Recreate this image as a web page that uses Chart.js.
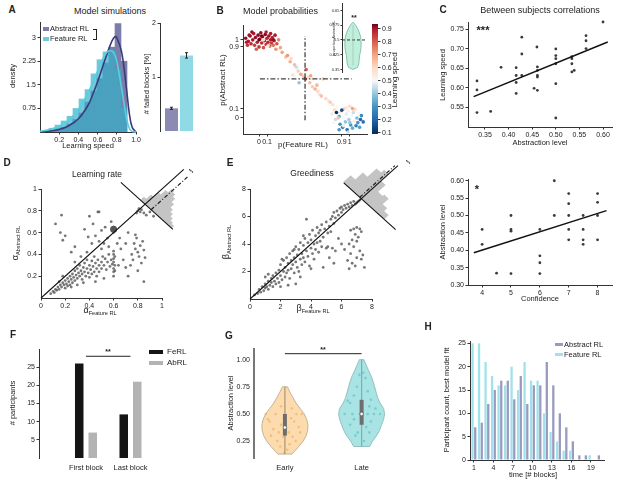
<!DOCTYPE html>
<html><head><meta charset="utf-8">
<script src="https://cdn.jsdelivr.net/npm/chart.js@4.4.1/dist/chart.umd.min.js"></script>
<style>
html,body{margin:0;padding:0;background:#fff;}
body{width:617px;height:481px;position:relative;overflow:hidden;font-family:'Liberation Sans',Arial,Helvetica,sans-serif;color:#222;}
canvas{position:absolute;}
.t{position:absolute;white-space:nowrap;line-height:1;}
.t sub{font-size:62%;vertical-align:-0.35em;}
</style></head><body>
<script>
// ================= DATA =================
// Panel A : histogram of learning speed (density)
const A_BIN_CENTERS=[0.0625,0.125,0.1875,0.25,0.3125,0.375,0.4375,0.5,0.5625,0.625,0.6875,0.75,0.8125,0.875];
const A_HIST_ABSTRACT=[0.02,0.05,0.1,0.15,0.25,0.4,0.6,0.95,1.3,1.7,2.2,2.7,3.45,2.25];
const A_HIST_FEATURE=[0.05,0.12,0.22,0.35,0.5,0.75,1.05,1.35,1.85,2.3,2.55,2.6,2.0,0.75];
const A_CURVE_X=[0,0.1,0.2,0.3,0.4,0.5,0.55,0.6,0.65,0.7,0.75,0.78,0.8,0.85,0.9,0.93,0.96,1.0];
const A_CURVE_ABSTRACT=[0,0.03,0.08,0.2,0.42,0.85,1.2,1.6,2.05,2.5,2.9,3.03,3.0,2.55,1.4,0.6,0.15,0.0];
const A_CURVE_FEATURE=[0.02,0.08,0.18,0.38,0.72,1.25,1.58,1.95,2.3,2.55,2.58,2.45,2.25,1.4,0.45,0.12,0.02,0];
const A_X_TICKS=[0.2,0.4,0.6,0.8,1.0];
const A_Y_TICKS=[0.75,1.5,2.25,3];
const A_Y_LABELS=['0.75','1.5','2.25','3'];
const A_FAIL_VALUES=[0.42,1.4];
const A_FAIL_ERR=[0.02,0.05];
// Panel B : model probabilities (display coords), learning speed
const B_POINTS=[
[-0.15,1.02,0.92],[-0.12,0.98,0.9],[-0.1,1.05,0.93],[-0.09,0.95,0.88],[-0.07,1.0,0.91],[-0.06,1.08,0.9],[-0.05,0.93,0.85],[-0.04,1.03,0.92],[-0.02,0.97,0.89],[-0.01,1.06,0.93],
[0.0,0.91,0.86],[0.01,1.01,0.9],[0.02,1.09,0.92],[0.03,0.96,0.87],[0.04,1.04,0.91],[0.05,0.9,0.82],[0.06,0.99,0.9],[0.07,1.07,0.93],[0.08,0.94,0.86],[0.09,1.02,0.89],
[0.1,0.97,0.88],[0.11,1.05,0.91],[0.12,0.92,0.8],[0.13,1.0,0.9],[0.14,0.96,0.85],[0.15,1.03,0.88],[0.16,0.93,0.78],[0.17,0.99,0.87],[0.18,1.06,0.9],[0.2,0.95,0.82],
[0.22,1.0,0.75],[0.24,0.9,0.7],[-0.13,0.93,0.86],[-0.08,1.1,0.92],[0.0,1.0,0.95],[0.05,1.0,0.6],[0.1,0.92,0.55],[-0.03,0.88,0.8],[0.13,1.08,0.9],[0.19,0.88,0.72],
[0.08,1.1,0.88],[-0.11,1.06,0.91],[-0.14,0.97,0.9],[0.03,1.05,0.94],[0.16,1.0,0.92],
[0.26,0.84,0.7],[0.3,0.78,0.65],[0.32,0.8,0.72],[0.35,0.72,0.68],[0.36,0.76,0.6],[0.4,0.68,0.66],[0.42,0.65,0.45],[0.44,0.6,0.62],[0.47,0.56,0.7],[0.5,0.53,0.64],
[0.52,0.5,0.88],[0.53,0.62,0.8],[0.55,0.52,0.6],[0.57,0.45,0.65],[0.6,0.4,0.63],[0.6,0.5,0.55],[0.63,0.37,0.68],[0.66,0.34,0.6],[0.68,0.3,0.58],[0.7,0.28,0.65],
[0.72,0.5,0.62],[0.75,0.25,0.6],[0.78,0.22,0.55],[0.8,0.2,0.62],[0.83,0.17,0.58],[0.58,0.54,0.7],[0.45,0.45,0.4],[0.38,0.55,0.58],[0.65,0.42,0.67],
[0.82,0.05,0.55],[0.85,0.1,0.6],[0.86,-0.02,0.45],[0.88,0.14,0.5],[0.9,0.02,0.35],[0.91,-0.08,0.3],[0.92,0.08,0.55],[0.94,-0.12,0.25],[0.95,0.0,0.5],[0.96,0.12,0.62],
[0.97,-0.05,0.4],[0.98,0.05,0.48],[0.99,-0.15,0.2],[1.0,0.09,0.52],[1.01,-0.02,0.42],[1.02,0.15,0.6],[1.03,-0.09,0.3],[1.04,0.03,0.5],[1.05,-0.13,0.35],[1.06,0.07,0.45],
[1.07,-0.04,0.52],[1.08,0.11,0.58],[1.09,-0.1,0.25],[1.1,0.0,0.38],[1.11,-0.06,0.3],[1.12,0.06,0.5],[1.14,-0.02,0.2],[1.15,0.03,0.28],[1.17,-0.05,0.22],[0.87,0.07,0.1],
[0.93,0.1,0.15],[0.84,-0.06,0.5],[0.98,0.13,0.55],[1.0,-0.18,0.45],[0.9,-0.15,0.3],[1.05,0.12,0.7],[0.95,-0.1,0.48],[1.13,-0.12,0.32],[0.89,0.0,0.65],[1.02,-0.06,0.4]];
const B_X_TICK_POS=[0,0.09,0.93,1.02];
const B_X_TICK_LABELS=['0','0.1','0.9','1'];
const B_Y_TICK_POS=[0,0.115,0.91,1];
const B_Y_TICK_LABELS=['0','0.1','0.9','1'];
const B_THRESH_X=0.517, B_THRESH_Y=0.5;
const B_CB_TICKS=[0.1,0.2,0.3,0.4,0.5,0.6,0.7,0.8,0.9];
const B_INSET_LEVELS=[0.35,0.36,0.38,0.4,0.42,0.44,0.46,0.48,0.5,0.52,0.54,0.56,0.58,0.59];
const B_INSET_DENS=[0,0.45,0.58,0.62,0.66,0.74,0.8,0.82,0.8,0.74,0.62,0.44,0.2,0];
const B_INSET_TICKS=[0.35,0.425,0.5,0.575,0.65];
const B_INSET_LABELS=['0.35','0.425','0.5','0.575','0.65'];
// Panel C
const C1_ABSTRACTION=[0.333,0.333,0.333,0.362,0.384,0.416,0.416,0.416,0.416,0.428,0.428,0.428,0.454,0.46,0.461,0.461,0.461,0.461,0.461,0.5,0.5,0.5,0.5,0.5,0.5,0.534,0.534,0.534,0.539,0.534,0.564,0.564,0.564,0.6];
const C1_SPEED=[0.618,0.595,0.537,0.54,0.653,0.652,0.632,0.614,0.586,0.73,0.687,0.632,0.599,0.705,0.654,0.645,0.632,0.628,0.594,0.70,0.683,0.675,0.662,0.611,0.523,0.675,0.662,0.641,0.645,0.68,0.734,0.721,0.701,0.769];
const C1_FIT=[0.493,0.417]; const C1_FIT_RANGE=[0.326,0.61];
const C1_X_TICKS=[0.35,0.40,0.45,0.50,0.55,0.60];
const C1_Y_TICKS=[0.55,0.60,0.65,0.70,0.75];
const C2_CONFIDENCE=[4,4,4.5,5,5,5,5,6,6,6,6,6.5,6.5,7,7,7,7,7,7.5,7.5,7.5,7.5,8,8,8,8];
const C2_ABSTRACTION=[0.46,0.417,0.334,0.5,0.46,0.455,0.333,0.46,0.384,0.364,0.333,0.6,0.5,0.563,0.534,0.5,0.46,0.43,0.5,0.46,0.43,0.417,0.563,0.538,0.5,0.43];
const C2_FIT=[0.0263,0.2954]; const C2_FIT_RANGE=[3.71,8.31];
const C2_X_TICKS=[4,5,6,7,8];
const C2_Y_TICKS=[0.30,0.35,0.40,0.45,0.50,0.55,0.60];
// Panel D : learning rate (Feature RL, Abstract RL)
const D_POINTS=[[0.08,0.04],[0.1,0.06],[0.11,0.05],[0.12,0.08],[0.13,0.07],[0.14,0.1],[0.15,0.08],[0.16,0.12],[0.17,0.1],[0.18,0.14],[0.19,0.12],[0.2,0.09],[0.2,0.16],[0.21,0.13],[0.22,0.18],[0.22,0.11],[0.23,0.15],[0.24,0.2],[0.24,0.12],[0.25,0.17],[0.26,0.14],[0.26,0.22],[0.27,0.19],[0.28,0.16],[0.28,0.25],[0.29,0.21],[0.3,0.18],[0.3,0.27],[0.31,0.23],[0.32,0.2],[0.32,0.3],[0.33,0.25],[0.34,0.22],[0.34,0.17],[0.35,0.28],[0.36,0.24],[0.36,0.32],[0.37,0.2],[0.38,0.27],[0.38,0.35],[0.39,0.23],[0.4,0.3],[0.4,0.19],[0.41,0.26],[0.42,0.34],[0.42,0.22],[0.43,0.29],[0.44,0.38],[0.44,0.24],[0.45,0.32],[0.46,0.27],[0.46,0.2],[0.47,0.35],[0.48,0.3],[0.48,0.24],[0.5,0.33],[0.5,0.27],[0.51,0.38],[0.52,0.3],[0.53,0.36],[0.54,0.26],[0.55,0.33],[0.56,0.4],[0.57,0.29],[0.58,0.35],
[0.15,0.15],[0.18,0.2],[0.25,0.1],[0.3,0.12],[0.35,0.14],[0.45,0.15],[0.52,0.18],[0.38,0.42],[0.33,0.38],[0.28,0.33],
[0.6,0.2],[0.6,0.24],[0.6,0.27],[0.61,0.3],[0.6,0.33],[0.6,0.36],[0.61,0.38],[0.6,0.4],[0.6,0.43],[0.59,0.31],[0.61,0.25],[0.6,0.6],[0.61,0.62],[0.6,0.65],
[0.4,0.75],[0.47,0.79],[0.48,0.79],[0.43,0.68],[0.5,0.62],[0.36,0.63],[0.45,0.57],[0.52,0.5],[0.55,0.55],[0.56,0.47],[0.53,0.65],[0.58,0.7],[0.5,0.45],[0.48,0.52],[0.42,0.5],[0.39,0.56],[0.63,0.5],[0.65,0.55],[0.66,0.45],[0.64,0.3],
[0.12,0.68],[0.17,0.76],[0.16,0.6],[0.18,0.53],[0.2,0.57],[0.25,0.42],[0.28,0.47],
[0.72,0.2],[0.74,0.3],[0.75,0.4],[0.76,0.35],[0.77,0.5],[0.78,0.45],[0.78,0.58],[0.79,0.55],[0.8,0.42],[0.81,0.38],[0.82,0.48],[0.83,0.32],[0.84,0.52],[0.85,0.44],[0.86,0.37],[0.8,0.25],[0.85,0.15],[0.7,0.5],[0.72,0.6],[0.68,0.35],[0.7,0.28],
[0.8,0.8],[0.81,0.82],[0.82,0.79],[0.83,0.81],[0.79,0.78],[0.85,0.78],[0.87,0.76],[0.9,0.79],[0.93,0.75]];
const D_MEAN_POINT=[[0.6,0.63]];
const D_X_TICKS=[0,0.2,0.4,0.6,0.8,1]; const D_Y_TICKS=[0.2,0.4,0.6,0.8,1];
const D_HIST_CENTER=[0.86,0.86];
const D_HIST_OFFSET=[-0.03,-0.01,0.01,0.03,0.05,0.07,0.09,0.11,0.13,0.15,0.17,0.19,0.21];
const D_HIST_LENGTH=[0.03,0.07,0.11,0.15,0.18,0.17,0.15,0.12,0.09,0.07,0.05,0.03,0.02];
const D_HIST_BIN=0.02; const D_CROSS=[-0.2,0.23]; const D_MEAN_OFFSET=0.05; const D_DIAG_END=1.18;
// Panel E : greediness
const E_POINTS=[[0.3,0.3],[0.5,0.4],[0.6,0.7],[0.7,0.5],[0.8,0.9],[0.9,0.6],[1.0,1.1],[1.0,0.8],[1.1,0.9],[1.2,1.3],[1.2,0.7],[1.3,1.0],[1.4,1.5],[1.4,1.2],[1.5,0.9],[1.5,1.7],[1.6,1.3],[1.7,1.9],[1.7,1.1],[1.8,1.5],[1.9,2.1],[1.9,1.2],[2.0,1.7],[2.0,2.5],[2.1,1.4],[2.2,2.0],[2.2,2.8],[2.3,1.6],[2.3,2.3],[2.4,3.0],[2.4,1.9],[2.5,2.6],[2.5,2.1],[2.6,3.3],[2.6,1.5],[2.7,2.8],[2.7,2.2],[2.8,3.5],[2.8,2.5],[2.9,3.0],[2.9,1.9],[3.0,2.7],[3.0,3.8],[3.1,2.3],[3.1,3.2],[3.2,3.6],[3.2,2.0],[3.3,2.9],[3.3,4.1],[3.4,3.3],[3.4,2.5],[3.5,3.9],[3.5,3.0],[3.6,4.4],[3.6,2.7],[3.7,3.5],[3.7,5.8],[3.8,4.1],[3.8,3.1],[3.9,4.7],[3.9,2.4],[4.0,3.7],[4.0,4.3],[4.1,3.3],[4.1,5.0],[4.2,4.0],[4.2,2.9],[4.3,4.6],[4.3,3.6],[4.4,5.2],[4.4,4.1],[4.5,3.4],[4.5,4.8],[4.6,5.0],[4.6,4.2],[4.7,3.8],[4.7,5.4],[4.8,4.5],[4.8,2.3],[4.9,5.1],[5.0,3.7],[5.0,5.6],[5.1,4.8],[5.1,3.8],[5.2,5.3],[5.3,5.8],[5.3,4.9],[5.4,6.0],[5.5,5.5],[5.5,6.3],[5.6,5.9],[5.7,6.4],[5.8,6.1],[5.9,6.6],[6.0,6.3],[6.0,6.7],[6.1,6.5],[6.2,6.8],[6.3,6.6],[6.4,6.9],[6.5,6.7],[6.6,7.0],[6.7,6.8],[6.8,7.1],[6.9,6.9],[7.0,7.0],[7.1,7.1],[7.2,7.2],
[6.6,5.0],[6.8,5.1],[7.0,5.2],[7.2,5.1],[7.3,4.9],[6.9,4.7],[7.1,4.5],[6.7,4.3],[7.0,4.2],[6.5,4.0],[6.8,3.8],[7.2,3.5],[6.6,3.3],[7.0,3.0],[7.3,2.9],[6.7,2.6],[6.9,2.4],[7.5,2.3],[7.4,3.2],[6.4,2.8],[6.5,2.2],[5.4,3.7],[5.6,3.5],[5.2,3.0],[5.8,4.4],[6.0,4.0],[6.2,3.6],[5.5,2.6],[1.2,1.8],[1.0,1.6],[2.0,0.9],[3.0,1.1],[2.5,1.0],[2.1,2.9],[2.9,3.6],[3.5,4.6],[4.0,2.2],[3.3,1.6]];
const E_X_TICKS=[0,2,4,6,8]; const E_Y_TICKS=[2,4,6,8];
const E_HIST_CENTER=[7.3,7.3];
const E_HIST_OFFSET=[-1.05,-0.75,-0.45,-0.15,0.15,0.45,0.75,1.05,1.35];
const E_HIST_LENGTH=[0.5,1.0,1.6,1.8,1.3,0.8,0.9,0.5,0.3];
const E_HIST_BIN=0.3; const E_CROSS=[-1.15,2.25]; const E_MEAN_OFFSET=-0.1; const E_DIAG_END=9.7;
// Panel F
const F_GROUPS=['First block','Last block'];
const F_FERL=[26,12];
const F_ABRL=[7,21];
const F_Y_TICKS=[5,10,15,20,25];
const F_SIG_Y=28;
// Panel G
const G_GROUPS=['Early','Late'];
const G_EARLY_LEVELS=[0.13,0.16,0.2,0.25,0.3,0.35,0.4,0.45,0.5,0.55,0.6,0.65,0.7,0.75];
const G_EARLY_DENS=[7,10,13.7,18,21,22.5,22.7,21.5,19,15,11,8,5,2.5];
const G_LATE_LEVELS=[0.2,0.25,0.3,0.35,0.4,0.45,0.5,0.55,0.6,0.65,0.7,0.75,0.8,0.85,0.9,0.95,1.0];
const G_LATE_DENS=[8,11,15,18,20,22,23,22,18.5,16,14.5,13,11.5,9.5,7,4.5,2.3];
const G_MIN=[0.13,0.2], G_Q1=[0.3,0.4], G_MED=[0.375,0.5], G_Q3=[0.5,0.63], G_MAX=[0.75,1.0];
const G_EARLY_VALUES=[0.57,0.5,0.5,0.5,0.46,0.43,0.43,0.4,0.38,0.36,0.33,0.33,0.33,0.3,0.29,0.29,0.25,0.25,0.22,0.2,0.17,0.14,0.55,0.45,0.5];
const G_EARLY_JITTER=[-0.05,0.15,-0.12,0.22,0.08,-0.2,0.12,-0.05,0.18,-0.15,0.05,-0.08,0.2,-0.18,0.1,-0.02,0.14,-0.1,0.06,-0.06,0.03,-0.01,0.09,-0.22,-0.25];
const G_LATE_VALUES=[0.88,0.86,0.83,0.75,0.71,0.67,0.63,0.6,0.57,0.55,0.5,0.5,0.5,0.5,0.5,0.5,0.45,0.43,0.4,0.38,0.33,0.33,0.3,0.25,0.62];
const G_LATE_JITTER=[0.02,-0.03,0.05,-0.06,0.08,-0.1,0.12,-0.15,0.1,0.18,-0.22,-0.12,-0.02,0.08,0.16,0.24,-0.1,0.12,-0.15,0.06,-0.05,0.1,-0.08,0.03,-0.18];
const G_Y_TICKS=[0.25,0.5,0.75,1.0];
const G_SIG_Y=1.055;
// Panel H
const H_BLOCKS=[1,2,3,4,5,6,7,8,9,10,11,12,13,14,15,16,17,18,19,20];
const H_FEATURE=[25,25,21,18,16,16,20,15,21,17,17,10,6,4,2,2,0,0,1,0];
const H_ABSTRACT=[7,8,12,15,17,17,13,18,12,16,16,21,16,10,7,4,1,1,0,1];
const H_X_TICKS=[1,4,7,10,13,16,19];
const H_Y_TICKS=[0,5,10,15,20,25];

// ================= HELPERS =================
const FONT="'Liberation Sans', Arial, Helvetica, sans-serif";
Chart.defaults.font.family=FONT;
Chart.defaults.font.size=7;
Chart.defaults.color='#222';
Chart.defaults.animation=false;

function T(x,y,s,fs,o={}){
  const d=document.createElement('div'); d.className='t'; d.innerHTML=s;
  d.style.left=x+'px'; d.style.top=y+'px'; d.style.fontSize=fs+'px';
  if(o.b) d.style.fontWeight='bold';
  if(o.c) d.style.color=o.c;
  d.style.transform='translate('+(o.left?'0':'-50%')+',-50%)'+(o.rot?' rotate('+o.rot+'deg)':'');
  document.body.appendChild(d);
}
function R(x,y,w,h,c,extra){const d=document.createElement('div');d.style.cssText='position:absolute;left:'+x+'px;top:'+y+'px;width:'+w+'px;height:'+h+'px;background:'+c+';'+(extra||'');document.body.appendChild(d);}

function lin(min,max,vals,o={}){
  const tl=o.tl??2.5;
  return {type:'linear',min,max,offset:false,position:o.pos,display:o.display??true,
    afterBuildTicks:(s)=>{s.ticks=vals.map(v=>({value:v}));},
    ticks:{autoSkip:false,maxRotation:0,minRotation:0,padding:o.pad??1.5,color:'#222',font:{size:o.fs||7,family:FONT},
      callback:(v,i)=>o.labels?o.labels[i]:(o.dec!=null?Number(v).toFixed(o.dec):String(v))},
    grid:{display:o.tick!==false,drawOnChartArea:false,drawTicks:true,tickLength:tl,color:'#333',tickColor:'#333',offset:false,lineWidth:1},
    border:{display:o.border!==false,color:o.bc||'#333',width:o.bw||1}};
}
function mk(rect,m,cfg){
  const [l,t,r,b]=rect,[ml,mt,mr,mb]=m;
  const c=document.createElement('canvas');
  const W=r-l+ml+mr,H=b-t+mt+mb;
  c.width=W;c.height=H;c.style.left=(l-ml)+'px';c.style.top=(t-mt)+'px';c.style.width=W+'px';c.style.height=H+'px';
  document.body.appendChild(c);
  const o=cfg.options=cfg.options||{};
  o.responsive=false;o.animation=false;o.devicePixelRatio=1;o.events=[];
  const pad={left:ml,top:mt,right:mr,bottom:mb};
  for(const k in o.scales){
    const s=o.scales[k]; if(s.display===false) continue;
    const pos=s.position||(k[0]==='x'?'bottom':'left');
    const size=pos==='left'?ml:pos==='right'?mr:pos==='top'?mt:mb;
    pad[pos]=0;
    s.afterFit=(sc)=>{if(pos==='left'||pos==='right')sc.width=size;else sc.height=size;sc.paddingLeft=sc.paddingRight=sc.paddingTop=sc.paddingBottom=0;};
  }
  o.layout={padding:pad};
  o.plugins=Object.assign({legend:{display:false},tooltip:{enabled:false}},o.plugins||{});
  return new Chart(c,cfg);
}
let PID=0;
function polyPlugin(items){return {id:'poly'+(PID++),beforeDatasetsDraw(ch){
  const ctx=ch.ctx,xs=ch.scales.x,ys=ch.scales.y; ctx.save();
  for(const it of items){ctx.beginPath();
    it.pts.forEach((p,i)=>{const X=xs.getPixelForValue(p[0]),Y=ys.getPixelForValue(p[1]);i?ctx.lineTo(X,Y):ctx.moveTo(X,Y);});
    ctx.closePath(); if(it.fill){ctx.fillStyle=it.fill;ctx.fill();} if(it.stroke){ctx.strokeStyle=it.stroke;ctx.lineWidth=it.lw||1;ctx.stroke();}}
  ctx.restore();}};}
function errPlugin(errs){return {id:'err'+(PID++),afterDatasetsDraw(ch){
  const ctx=ch.ctx,ys=ch.scales.y,meta=ch.getDatasetMeta(0); ctx.save(); ctx.strokeStyle='#222'; ctx.lineWidth=1;
  meta.data.forEach((el,i)=>{const v=ch.data.datasets[0].data[i].y;const y1=ys.getPixelForValue(v-errs[i]),y2=ys.getPixelForValue(v+errs[i]);
    ctx.beginPath();ctx.moveTo(el.x,y1);ctx.lineTo(el.x,y2);ctx.moveTo(el.x-1.5,y1);ctx.lineTo(el.x+1.5,y1);ctx.moveTo(el.x-1.5,y2);ctx.lineTo(el.x+1.5,y2);ctx.stroke();});
  ctx.restore();}};}
function lineDS(pts,color,w,dash,extra){return Object.assign({type:'line',data:pts.map(p=>({x:p[0],y:p[1]})),borderColor:color,borderWidth:w,borderDash:dash||[],pointRadius:0,fill:false,tension:0,clip:false,order:0},extra||{});}
function ptsDS(pts,color,r,extra){return Object.assign({type:'scatter',data:pts.map(p=>({x:p[0],y:p[1]})),pointRadius:r,backgroundColor:color,pointBackgroundColor:color,borderWidth:0,pointBorderWidth:0,showLine:false,clip:false,order:1},extra||{});}
function rotHist(c,s,h,w){const P=(ss,hh)=>[c[0]+ss+hh,c[1]-ss+hh];const pts=[P(s[0]-w/2,0)];
  s.forEach((si,i)=>{pts.push(P(si-w/2,h[i]),P(si+w/2,h[i]));});pts.push(P(s[s.length-1]+w/2,0));return pts;}
function violin(c,levels,dens,maxHalf){const m=Math.max(...dens);
  const right=levels.map((y,i)=>[c+dens[i]/m*maxHalf,y]);const left=levels.map((y,i)=>[c-dens[i]/m*maxHalf,y]).reverse();return right.concat(left);}
const CMAP=[[0.1,[5,48,97]],[0.2,[33,102,172]],[0.3,[67,147,195]],[0.4,[146,197,222]],[0.5,[247,247,247]],[0.6,[253,219,199]],[0.7,[244,165,130]],[0.8,[214,96,77]],[0.9,[178,24,43]],[0.95,[103,0,31]]];
function rgb(a){return 'rgb('+a.join(',')+')';}
function cmap(v){if(v<=CMAP[0][0])return rgb(CMAP[0][1]);
  for(let i=1;i<CMAP.length;i++){if(v<=CMAP[i][0]){const [a,ca]=CMAP[i-1],[b,cb]=CMAP[i];const t=(v-a)/(b-a);return rgb(ca.map((c,k)=>Math.round(c+(cb[k]-c)*t)));}}
  return rgb(CMAP[CMAP.length-1][1]);}
const zip=(xs,ys)=>xs.map((x,i)=>[x,ys[i]]);

// ================= PANEL A =================
mk([40,22,136,132],[26,6,8,14],{type:'bar',
  data:{datasets:[
    {type:'bar',data:zip(A_BIN_CENTERS,A_HIST_ABSTRACT).map(p=>({x:p[0],y:p[1]})),backgroundColor:'#7D7DAA',grouped:false,barPercentage:1,categoryPercentage:1,borderWidth:0,order:5},
    {type:'bar',data:zip(A_BIN_CENTERS,A_HIST_FEATURE).map(p=>({x:p[0],y:p[1]})),backgroundColor:'rgba(55,175,200,0.7)',grouped:false,barPercentage:1,categoryPercentage:1,borderWidth:0,order:4},
    lineDS(zip(A_CURVE_X,A_CURVE_ABSTRACT),'#3B3B7C',1.6,null,{tension:0.4,order:2}),
    lineDS(zip(A_CURVE_X,A_CURVE_FEATURE),'#55D0E0',1.6,null,{tension:0.4,order:1})]},
  options:{scales:{x:lin(0,1,A_X_TICKS,{dec:1}),y:lin(0,3.5,A_Y_TICKS,{labels:A_Y_LABELS})}}});
mk([160,23,197,131],[14,4,4,4],{type:'bar',
  data:{datasets:[{data:[{x:1,y:A_FAIL_VALUES[0]},{x:2,y:A_FAIL_VALUES[1]}],backgroundColor:['#8A8AB3','#8FDAE5'],barPercentage:0.87,categoryPercentage:1,borderWidth:0}]},
  options:{scales:{x:lin(0.233,2.7,[1,2],{display:false}),y:lin(0,2,[1,2])}},
  plugins:[errPlugin(A_FAIL_ERR)]});
T(12,10,'A',10,{b:1}); T(110,11,'Model simulations',9);
T(13,76,'density',7.5,{rot:-90}); T(88,146,'Learning speed',7.5);
R(43,27,6,4,'#7D7DAA'); T(50,29,'Abstract RL',7.5,{left:1});
R(43,37,6,4,'#6CCBDD'); T(50,39,'Feature RL',7.5,{left:1});
R(93,29,3,9,'transparent','border:1px solid #222;border-left:none;');
T(147,84,'# failed blocks [%]',7.5,{rot:-90});

// ================= PANEL B =================
mk([243,25,367,134],[22,4,4,14],{type:'scatter',
  data:{datasets:[
    lineDS([[0.01,B_THRESH_Y],[1.04,B_THRESH_Y]],'#444',1.3,[5,2,1.5,2],{order:0}),
    lineDS([[B_THRESH_X,-0.03],[B_THRESH_X,1.05]],'#444',1.3,[5,2,1.5,2],{order:0}),
    ptsDS(B_POINTS.map(p=>[p[0],p[1]]),B_POINTS.map(p=>cmap(p[2])),1.8,{order:1})]},
  options:{scales:{x:lin(-0.18,1.213,B_X_TICK_POS,{labels:B_X_TICK_LABELS}),y:lin(-0.205,1.19,B_Y_TICK_POS,{labels:B_Y_TICK_LABELS})}}});
mk([342,3,367,72],[14,3,2,2],{type:'scatter',
  data:{datasets:[
    lineDS([[0,0.37],[0,0.575]],'#8fbfa9',0.6,null,{clip:true}),
    lineDS([[-1.1,0.5],[1.4,0.5]],'#333',1,[3,2],{clip:true})]},
  options:{scales:{x:lin(-1.1,1.4,[0],{display:false}),y:lin(0.337,0.688,B_INSET_TICKS,{labels:B_INSET_LABELS,fs:4,tl:1.5,pad:1})}},
  plugins:[polyPlugin([{pts:violin(0,B_INSET_LEVELS,B_INSET_DENS,0.82),fill:'#C2EEDC',stroke:'#6FB89C',lw:0.8}])]});
mk([372,24,378,134],[2,2,14,2],{type:'bar',
  data:{labels:['cb'],datasets:[{data:[[0.092,0.938]],barPercentage:1,categoryPercentage:1,borderWidth:0,
    backgroundColor:(ctx)=>{const ch=ctx.chart,a=ch.chartArea;if(!a)return '#ccc';const ys=ch.scales.y;
      const g=ch.ctx.createLinearGradient(0,a.bottom,0,a.top);
      CMAP.forEach(s=>{g.addColorStop(Math.min(1,Math.max(0,(s[0]-ys.min)/(ys.max-ys.min))),rgb(s[1]));});return g;}}]},
  options:{scales:{x:{type:'category',display:false},y:lin(0.092,0.938,B_CB_TICKS,{pos:'right',border:false,fs:7})}}});
T(220,11,'B',10,{b:1}); T(243,11,'Model probabilities',9,{left:1});
T(223,80,'p(Abstract RL)',8,{rot:-90}); T(303,145,'p(Feature RL)',8);
T(395,80,'Learning speed',8,{rot:-90});
T(354,17,'**',7,{b:1}); T(335,38,'proportion Abstract RL',3.5,{rot:-90});

// ================= PANEL C =================
mk([468,22,612,127],[24,4,4,13],{type:'scatter',
  data:{datasets:[
    lineDS(C1_FIT_RANGE.map(x=>[x,C1_FIT[0]*x+C1_FIT[1]]),'#111',1.5,null,{order:0}),
    ptsDS(zip(C1_ABSTRACTION,C1_SPEED),'#3a3a3a',1.4)]},
  options:{scales:{x:lin(0.314,0.619,C1_X_TICKS,{dec:2}),y:lin(0.5,0.769,C1_Y_TICKS,{dec:2})}}});
mk([468,179,612,285],[24,4,4,13],{type:'scatter',
  data:{datasets:[
    lineDS(C2_FIT_RANGE.map(x=>[x,C2_FIT[0]*x+C2_FIT[1]]),'#111',1.5,null,{order:0}),
    ptsDS(zip(C2_CONFIDENCE,C2_ABSTRACTION),'#3a3a3a',1.4)]},
  options:{scales:{x:lin(3.51,8.5,C2_X_TICKS),y:lin(0.3,0.605,C2_Y_TICKS,{dec:2})}}});
T(443,10,'C',10,{b:1}); T(540,10,'Between subjects correlations',9);
T(443,75,'Learning speed',7.5,{rot:-90}); T(540,143,'Abstraction level',7.5);
T(483,30,'***',11,{b:1});
T(443,232,'Abstraction level',7.5,{rot:-90}); T(540,299,'Confidence',7.5);
T(477,189,'*',11,{b:1});

// ================= PANEL D =================
function crossPts(c,range){return range.map(s=>[c[0]+s,c[1]-s]);}
mk([41,189,162,298],[20,30,35,13],{type:'scatter',
  data:{datasets:[
    lineDS([[0,0],[D_DIAG_END,D_DIAG_END]],'#111',1.1,null,{order:0}),
    lineDS(crossPts(D_HIST_CENTER,D_CROSS),'#111',1.1,null,{order:0}),
    lineDS([[D_HIST_CENTER[0]+D_MEAN_OFFSET,D_HIST_CENTER[1]-D_MEAN_OFFSET],[D_HIST_CENTER[0]+D_MEAN_OFFSET+0.3,D_HIST_CENTER[1]-D_MEAN_OFFSET+0.3]],'#222',1.2,[4,2,1,2],{order:0}),
    ptsDS(D_POINTS,'rgba(85,85,85,0.8)',1.4,{order:2}),
    ptsDS(D_MEAN_POINT,'#555',3.5,{order:2})]},
  options:{scales:{x:lin(0,1,D_X_TICKS),y:lin(0,1,D_Y_TICKS)}},
  plugins:[polyPlugin([{pts:rotHist(D_HIST_CENTER,D_HIST_OFFSET,D_HIST_LENGTH,D_HIST_BIN),fill:'#C4C4C4'}])]});
T(7,163,'D',10,{b:1}); T(97,174,'Learning rate',8.5);
T(100,311,'α<sub>Feature RL</sub>',9); T(16,243,'α<sub>Abstract RL</sub>',9,{rot:-90});
T(191,171,'•••',5,{rot:40});

// ================= PANEL E =================
mk([250,189,372,299],[14,30,40,13],{type:'scatter',
  data:{datasets:[
    lineDS([[0,0],[E_DIAG_END,E_DIAG_END]],'#111',1.1,null,{order:0}),
    lineDS(crossPts(E_HIST_CENTER,E_CROSS),'#111',1.1,null,{order:0}),
    lineDS([[E_HIST_CENTER[0]+E_MEAN_OFFSET,E_HIST_CENTER[1]-E_MEAN_OFFSET],[E_HIST_CENTER[0]+E_MEAN_OFFSET+2.3,E_HIST_CENTER[1]-E_MEAN_OFFSET+2.3]],'#222',1.2,[4,2,1,2],{order:0}),
    ptsDS(E_POINTS,'rgba(85,85,85,0.8)',1.4,{order:2})]},
  options:{scales:{x:lin(0,8,E_X_TICKS),y:lin(0,8,E_Y_TICKS)}},
  plugins:[polyPlugin([{pts:rotHist(E_HIST_CENTER,E_HIST_OFFSET,E_HIST_LENGTH,E_HIST_BIN),fill:'#C4C4C4'}])]});
T(230,163,'E',10,{b:1}); T(312,173,'Greediness',8.5);
T(313,309,'β<sub>Feature RL</sub>',9); T(227,242,'β<sub>Abstract RL</sub>',9,{rot:-90});
T(408,162,'•••',5,{rot:40});

// ================= PANEL F =================
mk([39,349,175,458],[16,4,4,14],{type:'bar',
  data:{datasets:[
    {label:'FeRL',data:F_FERL.map((v,i)=>({x:i+1,y:v})),backgroundColor:'#141414',barPercentage:0.63,categoryPercentage:0.607,borderWidth:0},
    {label:'AbRL',data:F_ABRL.map((v,i)=>({x:i+1,y:v})),backgroundColor:'#B3B3B3',barPercentage:0.63,categoryPercentage:0.607,borderWidth:0},
    lineDS([[1,F_SIG_Y],[2,F_SIG_Y]],'#222',1,null)]},
  options:{scales:{x:lin(-0.056,3.0,[1,2],{labels:F_GROUPS,border:false,tick:false,tl:0,pad:5,fs:7.5}),y:lin(0,30,F_Y_TICKS)}}});
T(13,335,'F',10,{b:1}); T(13,403,'# participants',7.5,{rot:-90});
T(108,351,'**',7,{b:1});
R(149,350,14,4,'#141414'); T(167,352,'FeRL',8,{left:1});
R(149,361,14,4,'#B3B3B3'); T(167,363,'AbRL',8,{left:1});

// ================= PANEL G =================
const gEarlyPts=G_EARLY_VALUES.map((v,i)=>[1+G_EARLY_JITTER[i],v]);
const gLatePts=G_LATE_VALUES.map((v,i)=>[2+G_LATE_JITTER[i],v]);
mk([254,348,400,458],[22,4,4,14],{type:'scatter',
  data:{datasets:[
    lineDS([[1,G_SIG_Y],[2,G_SIG_Y]],'#222',1,null,{order:0}),
    ptsDS([[1,G_MED[0]],[2,G_MED[1]]],'#fff',1.8,{order:1,pointBorderWidth:0.8,pointBorderColor:'#666',borderColor:'#666',borderWidth:0.8}),
    lineDS([[1,G_Q1[0]],[1,G_Q3[0]]],'#6e6e6e',4,null,{order:2}),
    lineDS([[2,G_Q1[1]],[2,G_Q3[1]]],'#6e6e6e',4,null,{order:2}),
    lineDS([[1,G_MIN[0]],[1,G_MAX[0]]],'#A89478',1.2,null,{order:3}),
    lineDS([[2,G_MIN[1]],[2,G_MAX[1]]],'#7FAFAF',1.2,null,{order:3}),
    ptsDS(gEarlyPts,'rgba(240,165,80,0.55)',1.3,{order:4}),
    ptsDS(gLatePts,'rgba(70,185,190,0.5)',1.3,{order:4})]},
  options:{scales:{x:lin(0.597,2.49,[1,2],{labels:G_GROUPS,border:false,tick:false,tl:0,pad:5,fs:7.5}),
    y:lin(0.094,1.10,G_Y_TICKS,{dec:2,bc:'#777',bw:2,tick:false,tl:0,pad:4})}},
  plugins:[polyPlugin([
    {pts:violin(1,G_EARLY_LEVELS,G_EARLY_DENS,0.3),fill:'#FCDCAE',stroke:'#B9A283',lw:0.8},
    {pts:violin(2,G_LATE_LEVELS,G_LATE_DENS,0.3),fill:'#A9E3E3',stroke:'#80B5B5',lw:0.8}])]});
T(229,336,'G',10,{b:1}); T(231,403,'Abstraction level',7.5,{rot:-90});
T(323,349,'**',7,{b:1});

// ================= PANEL H =================
mk([470,341,604,460],[14,4,4,12],{type:'bar',
  data:{datasets:[
    {label:'Feature RL',data:zip(H_BLOCKS,H_FEATURE).map(p=>({x:p[0],y:p[1]})),backgroundColor:'#A2E1EA',barPercentage:0.85,categoryPercentage:0.83,borderWidth:0},
    {label:'Abstract RL',data:zip(H_BLOCKS,H_ABSTRACT).map(p=>({x:p[0],y:p[1]})),backgroundColor:'#9A9ABF',barPercentage:0.85,categoryPercentage:0.83,borderWidth:0}]},
  options:{scales:{x:lin(0.4,21,H_X_TICKS),y:lin(0,25.5,H_Y_TICKS)}}});
T(428,327,'H',10,{b:1});
T(447,400,'Participant count, best model fit',7.5,{rot:-90}); T(533,475,'time [# blocks]',7.5);
R(555,343,8,3,'#9A9ABF'); T(564,345,'Abstract RL',7.5,{left:1});
R(555,353,8,3,'#A2E1EA'); T(564,355,'Feature RL',7.5,{left:1});
</script>
</body></html>
